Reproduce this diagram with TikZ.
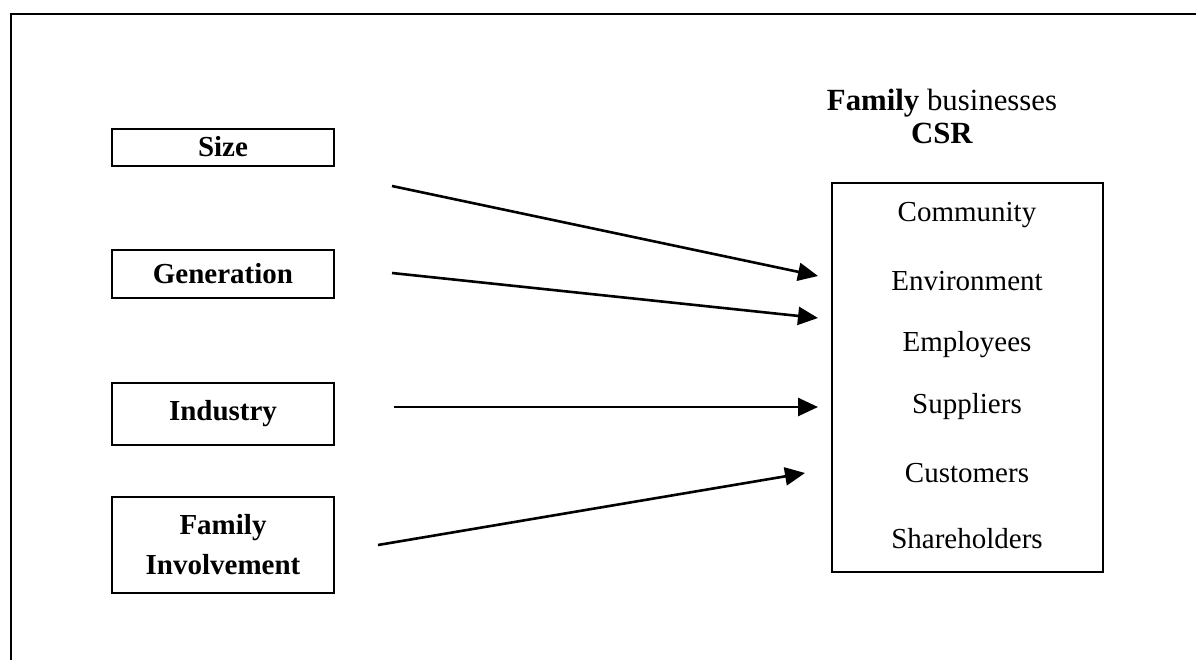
\documentclass[tikz,border=0pt]{standalone}
\usepackage{fontspec}
\setmainfont{Liberation Serif}
\usetikzlibrary{arrows.meta}
\begin{document}
\begin{tikzpicture}[x=0.5pt,y=-0.5pt,
  every node/.style={font=\fontsize{14.5}{20}\selectfont},
  factor/.style={draw, line width=1pt, minimum width=111pt, align=center,
    inner sep=0pt, font=\fontsize{14.5}{20}\selectfont\bfseries},
  group/.style={draw, line width=1pt, minimum width=135.5pt, minimum height=194.5pt, inner sep=0pt},
  item/.style={inner sep=0pt},
  link/.style={line width=1.3pt, -{Triangle[length=10pt,width=9pt]}}]
\useasboundingbox (0,0) rectangle (1196,660);
% outer frame
\draw[line width=1pt] (11,660) -- (11,14) -- (1196,14);

% influencing factors
\node[factor, minimum height=18.5pt] (size) at (223,147) {Size};
\node[factor, minimum height=24pt]   (gen)  at (223,274) {Generation};
\node[factor, minimum height=31pt]   (ind)  at (223,414) {Industry};
\node[factor, minimum height=48pt]   (fam)  at (223,545) {Family\\Involvement};

% CSR dimensions
\node[align=center, font=\fontsize{15.4}{16.5}\selectfont] (title) at (942,116)
  {\textbf{Family} businesses\\\textbf{CSR}};
\node[group] (csr) at (967.5,377.5) {};
\node[item] (comm) at (967,215) {Community};
\node[item] (env)  at (967,281) {Environment};
\node[item] (emp)  at (967,345) {Employees};
\node[item] (sup)  at (967,407) {Suppliers};
\node[item] (cus)  at (967,473) {Customers};
\node[item] (sha)  at (967,539) {Shareholders};

% arrow end points
\coordinate (s1) at (392,186); \coordinate (e1) at (818,276);
\coordinate (s2) at (392,273); \coordinate (e2) at (818,318);
\coordinate (s3) at (394,407); \coordinate (e3) at (818,407);
\coordinate (s4) at (378,545); \coordinate (e4) at (805,473);
\draw[link] (s1) -- (e1);
\draw[link] (s2) -- (e2);
\draw[link] (s3) -- (e3);
\draw[link] (s4) -- (e4);
\end{tikzpicture}
\end{document}
